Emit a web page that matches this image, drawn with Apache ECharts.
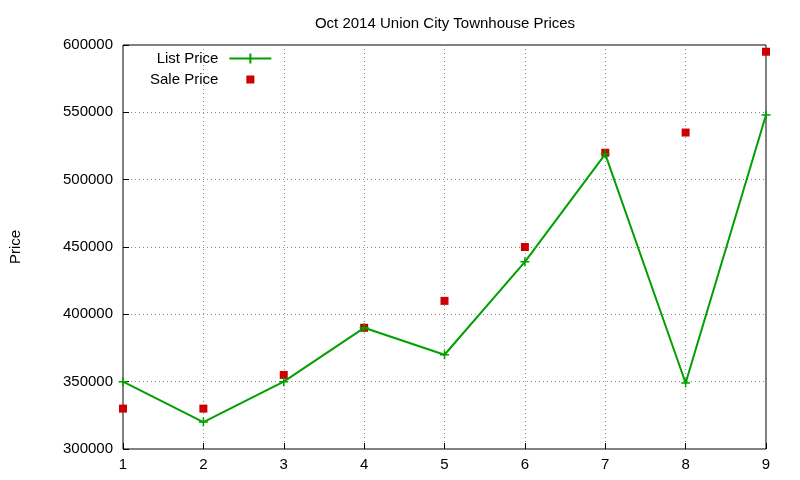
<!DOCTYPE html><html><head><meta charset="utf-8">
<script src="https://cdn.jsdelivr.net/npm/echarts@6/dist/echarts.min.js"></script>
<style>html,body{margin:0;background:#fff}#c{width:800px;height:480px}</style></head>
<body><div id="c"></div><script>
var categories=[1,2,3,4,5,6,7,8,9];
var listPrice=[350000,320000,350000,390000,370000,439000,519000,349000,548000];
var salePrice=[330000,330000,355000,390000,410000,450000,520000,535000,595000];
var yTicks=[300000,350000,400000,450000,500000,550000,600000];
var plus='path://M5,0L5,10M0,5L10,5';
var font='Liberation Sans, Arial, sans-serif';
var c=echarts.init(document.getElementById('c'));
c.setOption({
 animation:false,
 title:{text:'Oct 2014 Union City Townhouse Prices',left:440,top:11,textAlign:'center',textStyle:{fontFamily:font,fontSize:15,fontWeight:'normal',color:'#000'}},
 grid:{left:119,right:34,top:45,bottom:31,show:true,borderColor:'#000',borderWidth:1},
 legend:{orient:'vertical',left:145,top:46,align:'right',itemWidth:42,itemHeight:10,itemGap:6,
  textStyle:{fontFamily:font,fontSize:15,color:'#000',padding:[0,6,0,0]},
  data:[{name:'List Price',icon:'path://M0,5L42,5M21,0L21,10'},
        {name:'Sale Price',icon:'path://M0,0L0.01,0M42,10L41.99,10M17,1L25,1L25,9L17,9Z'}]},
 xAxis:{type:'value',min:1,max:9,interval:1,
  axisLine:{show:false},axisTick:{inside:true,length:6,lineStyle:{color:'#000'}},
  axisLabel:{fontFamily:font,fontSize:15,color:'#000',margin:8},
  splitLine:{lineStyle:{type:[1,3],color:'#888'}}},
 yAxis:{type:'value',min:300000,max:600000,interval:50000,
  name:'Price',nameLocation:'middle',nameGap:100,nameTextStyle:{fontFamily:font,fontSize:15,color:'#000'},
  axisLine:{show:false},axisTick:{inside:true,length:6,lineStyle:{color:'#000'}},
  axisLabel:{fontFamily:font,fontSize:15,color:'#000',margin:10,formatter:function(v){return String(v);}},
  splitLine:{lineStyle:{type:[1,3],color:'#888'}}},
 series:[
  {name:'List Price',type:'line',data:categories.map(function(x,i){return [x,listPrice[i]];}),
   symbol:plus,symbolSize:9,showAllSymbol:true,
   lineStyle:{color:'#00a000',width:2},itemStyle:{color:'#00a000',borderColor:'#00a000',borderWidth:1.5},color:'#00a000'},
  {name:'Sale Price',type:'scatter',data:categories.map(function(x,i){return [x,salePrice[i]];}),
   symbol:'rect',symbolSize:8,itemStyle:{color:'#cc0000',opacity:1}}
 ]
});
</script></body></html>
